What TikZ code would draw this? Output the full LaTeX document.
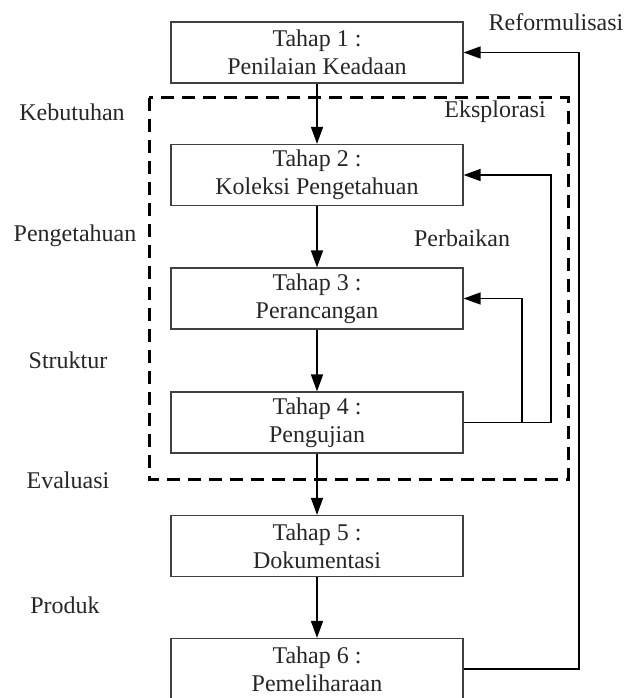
\documentclass[tikz,border=0pt]{standalone}
\usepackage{fontspec}
\setmainfont{Liberation Serif}
\usetikzlibrary{arrows.meta}

\begin{document}
\begin{tikzpicture}[x=1pt,y=-1pt,
  tahap/.style={draw=black!75, line width=1.2pt, minimum width=292pt, minimum height=61pt,
    align=center, inner sep=0pt, font=\fontsize{24}{28}\selectfont, text=black!85},
  lbl/.style={font=\fontsize{24}{28}\selectfont, text=black!85, inner sep=0pt},
  alur/.style={line width=1.5pt, -{Triangle[length=17pt,width=12pt]}},
  dashbox/.style={line width=3pt, dash pattern=on 13pt off 8pt}]
\useasboundingbox (0,0) rectangle (628,698);
% tahapan
\node[tahap] (t1) at (317,52.5) {Tahap 1 :\\Penilaian Keadaan};
\node[tahap] (t2) at (317,175) {Tahap 2 :\\Koleksi Pengetahuan};
\node[tahap] (t3) at (317,298.5) {Tahap 3 :\\Perancangan};
\node[tahap] (t4) at (317,422.5) {Tahap 4 :\\Pengujian};
\node[tahap] (t5) at (317,546) {Tahap 5 :\\Dokumentasi};
\node[tahap] (t6) at (317,669) {Tahap 6 :\\Pemeliharaan};
% kotak eksplorasi
\draw[dashbox] (149,98) rectangle (568,479);
% label
\node[lbl] (reform) at (556,22) {Reformulisasi};
\node[lbl] (eksp) at (495,112) {Eksplorasi};
\node[lbl] (perb) at (462,238) {Perbaikan};
\node[lbl] (keb) at (72,112) {Kebutuhan};
\node[lbl] (peng) at (75,236) {Pengetahuan};
\node[lbl] (str) at (68,360) {Struktur};
\node[lbl] (eva) at (68,480) {Evaluasi};
\node[lbl] (prod) at (65,605) {Produk};
% titik belok
\coordinate (rf) at (579,0);
\coordinate (pb) at (551,0);
\coordinate (pc) at (522,0);
% panah
\draw[alur] (t1) -- (t2);
\draw[alur] (t2) -- (t3);
\draw[alur] (t3) -- (t4);
\draw[alur] (t4) -- (t5);
\draw[alur] (t5) -- (t6);
\draw[alur] (t6.east) -- (t6.east -| rf) -- (t1.east -| rf) -- (t1.east);
\draw[alur] (t4.east) -- (t4.east -| pb) -- (t2.east -| pb) -- (t2.east);
\draw[alur] (t4.east -| pc) -- (t3.east -| pc) -- (t3.east);
\end{tikzpicture}
\end{document}
